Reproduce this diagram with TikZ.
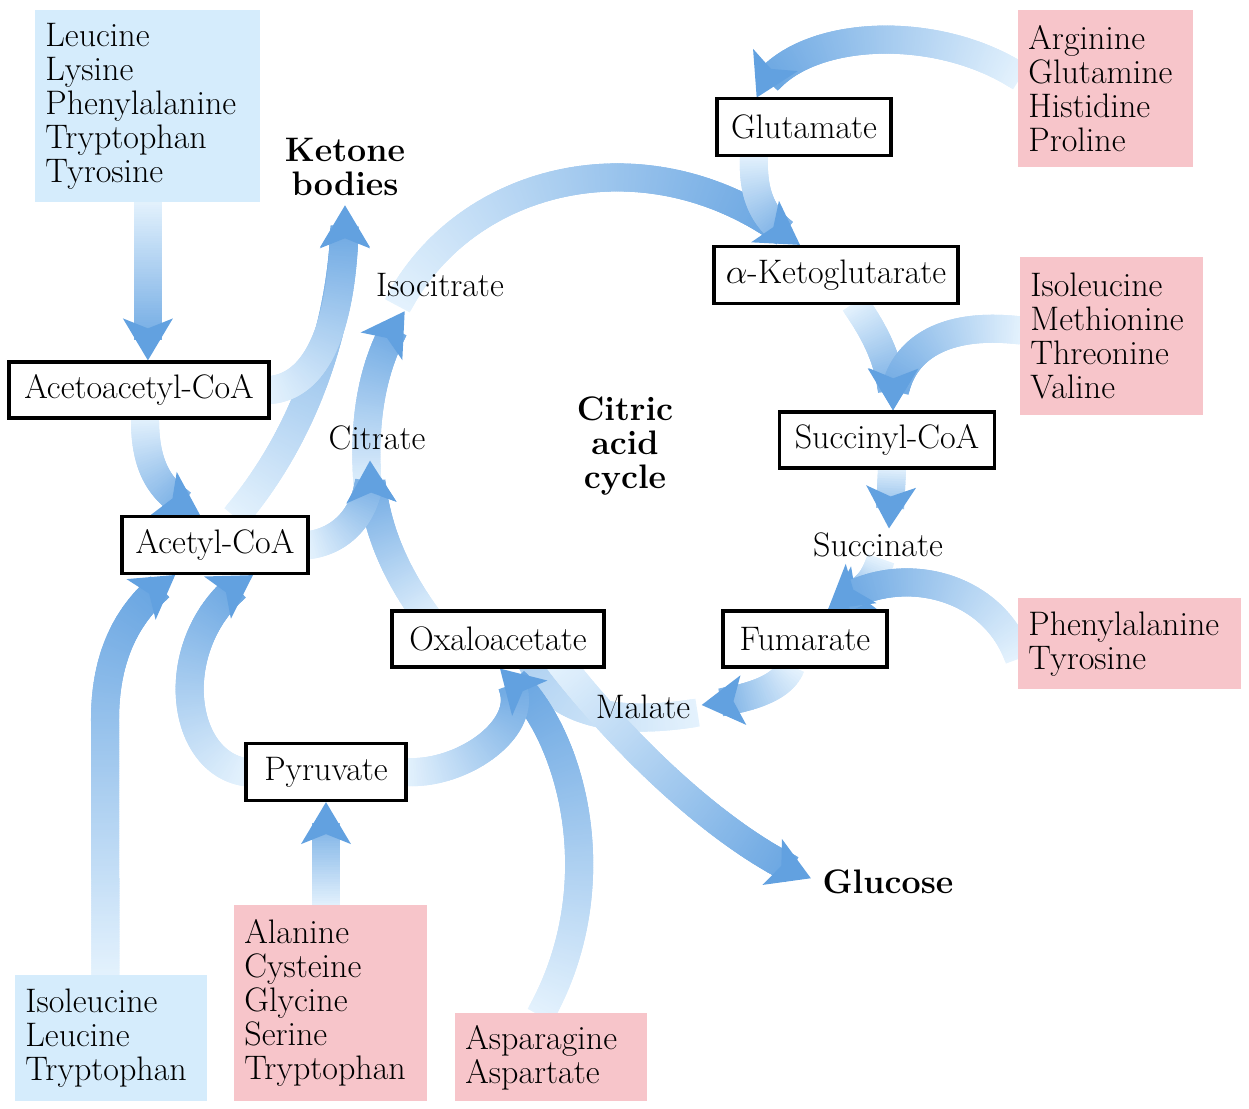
\documentclass[tikz,border=0pt]{standalone}
\usepackage{tikz}
\usetikzlibrary{positioning,calc,backgrounds,decorations.markings}
\usepackage{xcolor}

\definecolor{aablue}{RGB}{213,236,252}
\definecolor{aapink}{RGB}{247,197,202}
\definecolor{flowlight}{RGB}{228,242,253}
\definecolor{flowdark}{RGB}{98,161,224}

\tikzset{
  metab/.style={draw, line width=1.6pt, fill=white, inner xsep=0pt, inner ysep=2pt, font=\fontsize{17}{17}\selectfont},
  aaketo/.style={fill=aablue, anchor=north west, align=left, inner xsep=5pt, inner ysep=0pt, font=\fontsize{17}{17}\selectfont},
  aagluco/.style={aaketo, fill=aapink},
  lbl/.style={inner sep=2pt, font=\fontsize{17}{17}\selectfont},
  blbl/.style={inner sep=2pt, align=center, font=\fontsize{17}{17}\selectfont\bfseries},
  flow/.style={postaction={decorate}, decoration={markings,
      mark=between positions 0 and -11pt step 1.2pt with {%
        \pgfmathsetmacro\flowmix{min(100,100*(\pgfkeysvalueof{/pgf/decoration/mark info/distance from start}/\pgfdecoratedpathlength))}%
        \fill[flowdark!\flowmix!flowlight] (-1.5pt,-7pt) rectangle (1.5pt,7pt);},
      mark=at position -0.5pt with {\fill[flowdark] (0.5pt,0pt) -- (-20.5pt,12.5pt) -- (-15.5pt,0pt) -- (-20.5pt,-12.5pt) -- cycle;}}},
  flowline/.style={postaction={decorate}, decoration={markings,
      mark=between positions 0 and 1 step 1.2pt with {%
        \pgfmathsetmacro\flowmix{min(40,40*(\pgfkeysvalueof{/pgf/decoration/mark info/distance from start}/\pgfdecoratedpathlength))}%
        \fill[flowdark!\flowmix!flowlight] (-1.5pt,-7pt) rectangle (1.5pt,7pt);}}}
}

\begin{document}
\begin{tikzpicture}[x=0.5pt, y=-0.5pt]
    \useasboundingbox (0,0) rectangle (1249,1109);

    \node[aaketo, text width=102.5pt, minimum height=96pt] (leucine) at (35,10) {Leucine\\Lysine\\Phenylalanine\\Tryptophan\\Tyrosine};
    \node[aaketo, text width=86pt, minimum height=63pt] (isoleucineA) at (15,975) {Isoleucine\\Leucine\\Tryptophan};
    \node[aagluco, text width=77.5pt, minimum height=78.5pt] (arginine) at (1018,10) {Arginine\\Glutamine\\Histidine\\Proline};
    \node[aagluco, text width=81.5pt, minimum height=79pt] (isoleucineB) at (1020,257) {Isoleucine\\Methionine\\Threonine\\Valine};
    \node[aagluco, text width=101.5pt, minimum height=45.5pt] (phenyl) at (1018,598) {Phenylalanine\\Tyrosine};
    \node[aagluco, text width=86.5pt, minimum height=98pt] (alanine) at (234,905) {Alanine\\Cysteine\\Glycine\\Serine\\Tryptophan};
    \node[aagluco, text width=86pt, minimum height=44pt] (asparagine) at (455,1013) {Asparagine\\Aspartate};

    \node[metab, minimum width=130pt, minimum height=28pt] (acetoacetyl) at (139,390) {Acetoacetyl-CoA};
    \node[metab, minimum width=93pt, minimum height=28.5pt] (acetyl) at (215,545) {Acetyl-CoA};
    \node[metab, minimum width=87pt, minimum height=28.5pt] (glutamate) at (804,127) {Glutamate};
    \node[metab, minimum width=122pt, minimum height=28.5pt] (ketoglutarate) at (836,275) {$\alpha$-Ketoglutarate};
    \node[metab, minimum width=107.5pt, minimum height=28pt] (succinylcoa) at (887,440) {Succinyl-CoA};
    \node[metab, minimum width=82pt, minimum height=28pt] (fumarate) at (805,639) {Fumarate};
    \node[metab, minimum width=106pt, minimum height=28pt] (oxaloacetate) at (498,639) {Oxaloacetate};
    \node[metab, minimum width=80pt, minimum height=28.5pt] (pyruvate) at (326,772) {Pyruvate};

    \node[blbl] (ketone) at (345,167) {Ketone\\bodies};
    \node[lbl] (isocitrate) at (440,285) {Isocitrate};
    \node[lbl] (citrate) at (377,438) {Citrate};
    \node[blbl] (cycle) at (625,446) {Citric\\acid\\cycle};
    \node[lbl] (succinate) at (878,545) {Succinate};
    \node[lbl] (malate) at (643,707) {Malate};
    \node[blbl] (glucose) at (888,882) {Glucose};

    \begin{scope}[on background layer]
    \path[flow] ($(oxaloacetate.north west)+(40,12)$) .. controls (392,570) and (372,520) .. ($(citrate.south)+(-7,6)$);
    \path[flow] ($(citrate.south)+(-9,36)$) .. controls (362,420) and (372,360) .. ($(isocitrate.south west)+(33,10)$);
    \path[flow] ($(isocitrate.south west)+(27,2)$) .. controls (470,170) and (660,130) .. ($(ketoglutarate.north)+(-36,0)$);
    \path[flow] ($(ketoglutarate.south)+(20,0)$) .. controls (880,340) and (893,370) .. ($(succinylcoa.north)+(6,0)$);
    \path[flow] ($(succinylcoa.south)+(5,0)$) -- ($(succinate.north)+(11,0)$);
    \path[flow] ($(succinate.south)+(2,0)$) .. controls (870,590) and (860,590) .. ($(fumarate.north)+(23,0)$);
    \path[flow] ($(fumarate.south)+(-15,0)$) .. controls (780,690) and (745,700) .. ($(malate.east)+(7,-2)$);
    \path[flowline] ($(malate.east)+(0,6)$) .. controls (600,728) and (545,705) .. ($(oxaloacetate.south)+(32,-12)$);

    \path[flow] (leucine.south) -- (leucine.south |- acetoacetyl.north);
    \path[flow] ($(acetyl.north)+(22,0)$) .. controls (300,440) and (345,330) .. ($(ketone.south)+(0,6)$);
    \path[flow] (acetoacetyl.east) .. controls (320,385) and (345,320) .. ($(ketone.south)+(0,6)$);
    \path[flow] ($(acetoacetyl.south)+(6,0)$) .. controls (145,480) and (170,497) .. ($(acetyl.north)+(-15,0)$);
    \path[flow] (acetyl.east) .. controls (345,540) and (372,510) .. ($(citrate.south)+(-7,6)$);
    \path[flow] ($(arginine.west)+(0,-13)$) .. controls (930,20) and (790,30) .. ($(glutamate.north)+(-47,0)$);
    \path[flow] ($(glutamate.south)+(-50,0)$) .. controls (752,205) and (770,225) .. ($(ketoglutarate.north)+(-36,0)$);
    \path[flow] ($(isoleucineB.west)+(0,-6)$) .. controls (930,320) and (893,360) .. ($(succinylcoa.north)+(6,0)$);
    \path[flow] ($(phenyl.west)+(0,12)$) .. controls (990,580) and (890,560) .. ($(fumarate.north)+(23,0)$);
    \path[flow] ($(oxaloacetate.south)+(62,-6)$) .. controls (620,740) and (720,840) .. ($(glucose.west)+(-8,-4)$);
    \path[flow] ($(asparagine.north)+(-10,0)$) .. controls (615,880) and (570,720) .. ($(oxaloacetate.south)+(2,0)$);
    \path[flow] (pyruvate.east) .. controls (470,775) and (548,715) .. ($(oxaloacetate.south)+(2,0)$);
    \path[flow] ($(isoleucineA.north)+(-6,0)$) -- (105,720) .. controls (105,640) and (140,600) .. ($(acetyl.south)+(-40,0)$);
    \path[flow] (pyruvate.west) .. controls (175,760) and (165,630) .. ($(acetyl.south)+(38,0)$);
    \path[flow] (pyruvate.south |- alanine.north) -- (pyruvate.south);
    \end{scope}
\end{tikzpicture}
\end{document}
